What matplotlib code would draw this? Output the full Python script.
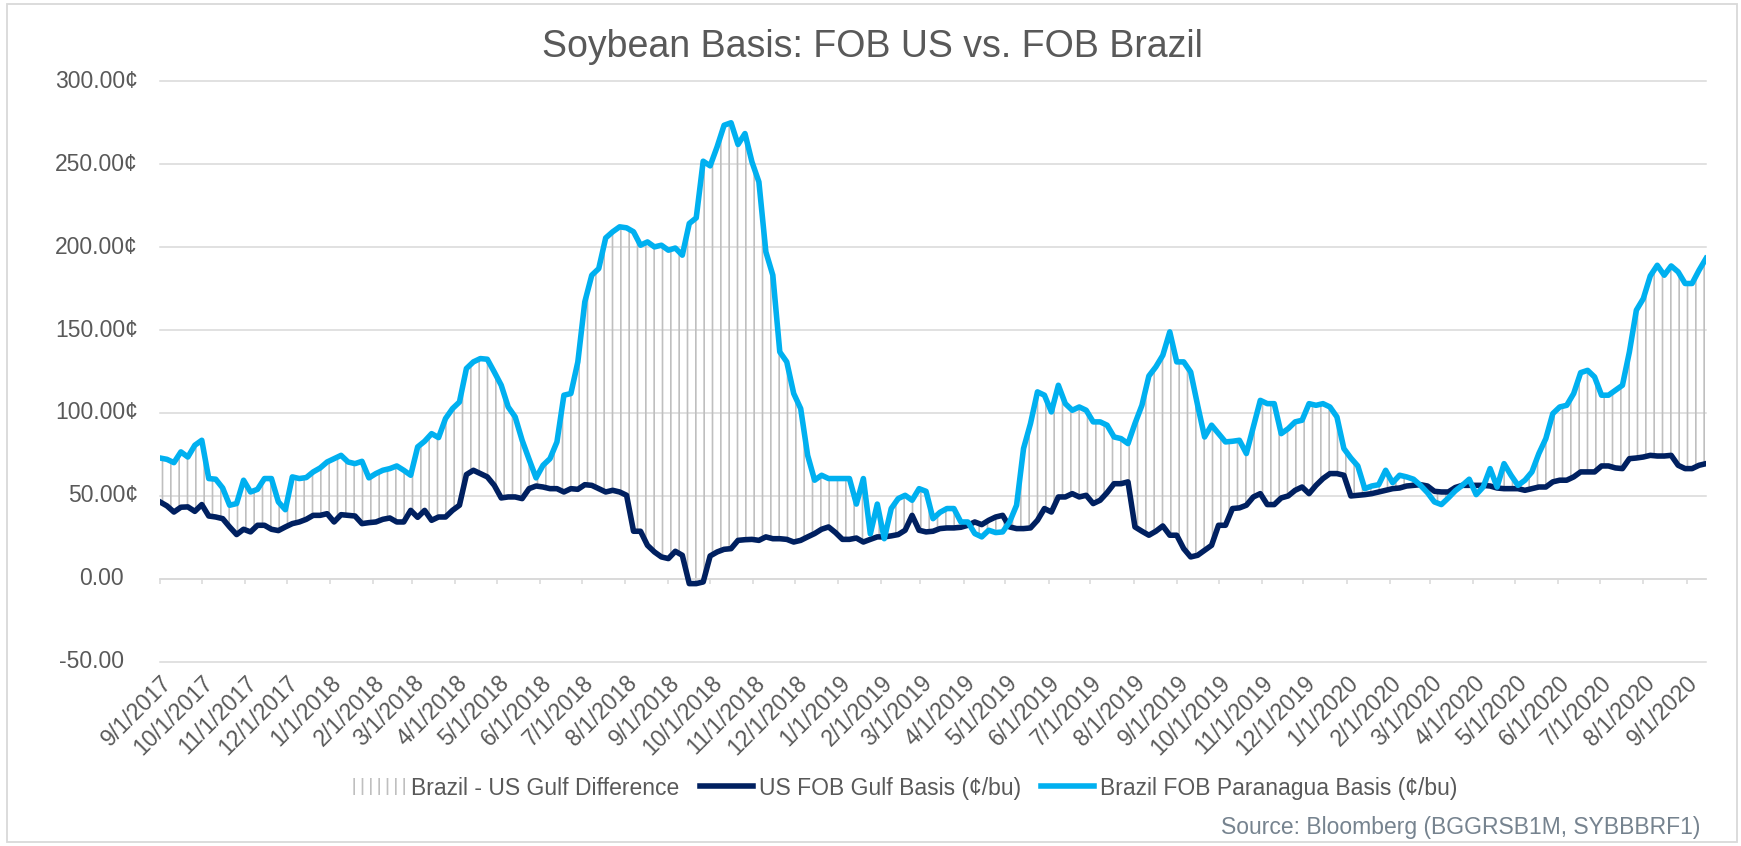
import matplotlib
matplotlib.use("Agg")
import matplotlib.pyplot as plt
import matplotlib.dates as mdates
import matplotlib.transforms as mtransforms
from matplotlib.patches import Patch, Rectangle
from matplotlib.lines import Line2D
from matplotlib.ticker import FuncFormatter
import pandas as pd

plt.rcParams['font.family'] = ['Liberation Sans', 'DejaVu Sans']
plt.rcParams['hatch.linewidth'] = 1.2
plt.rcParams['hatch.color'] = '#bfbfbf'

title = "Soybean Basis: FOB US vs. FOB Brazil"
source_note = "Source: Bloomberg (BGGRSB1M, SYBBBRF1)"
series_names = ["Brazil - US Gulf Difference",
                "US FOB Gulf Basis (\u00a2/bu)",
                "Brazil FOB Paranagua Basis (\u00a2/bu)"]

# observation dates: every 5 days from the start date
start_date = "2017-09-01"
step_days = 5

brazil_fob = [
    72.8, 72.0, 70.0, 76.5, 73.4, 80.5, 83.5, 60.4, 60.0, 54.7,
    44.3, 45.3, 59.4, 52.3, 53.9, 60.4, 60.4, 46.3, 41.6, 61.4,
    60.4, 61.0, 64.4, 66.8, 70.4, 72.4, 74.4, 70.4, 69.4, 70.8,
    60.8, 63.4, 65.4, 66.4, 68.0, 65.4, 62.4, 79.5, 82.9, 87.5,
    85.1, 96.6, 102.6, 106.6, 126.8, 130.8, 132.8, 132.4, 124.7, 116.7,
    103.6, 97.6, 83.5, 72.0, 60.8, 68.4, 72.4, 82.5, 110.7, 111.7,
    130.8, 167.0, 183.1, 187.1, 205.6, 209.3, 212.3, 211.7, 209.3, 201.2,
    203.2, 200.2, 201.2, 198.2, 199.5, 195.2, 214.3, 217.7, 251.9, 249.1,
    260.6, 273.6, 275.1, 262.0, 268.6, 251.5, 239.4, 197.2, 183.1, 136.8,
    130.8, 111.7, 102.6, 74.4, 59.4, 62.4, 60.4, 60.4, 60.4, 60.4,
    45.0, 60.4, 27.0, 45.0, 24.1, 42.3, 48.3, 50.3, 47.3, 54.3,
    52.7, 36.2, 40.0, 42.3, 42.3, 34.2, 34.2, 27.2, 25.2, 29.2,
    27.8, 28.2, 34.2, 44.3, 78.5, 93.6, 112.7, 110.7, 100.6, 116.7,
    105.6, 101.6, 103.6, 101.6, 94.6, 94.6, 92.6, 85.5, 84.5, 81.5,
    93.6, 104.6, 122.3, 127.8, 134.8, 148.9, 130.8, 130.8, 124.7, 104.6,
    85.5, 92.6, 87.5, 82.5, 82.9, 83.5, 75.5, 91.5, 107.6, 105.6,
    105.6, 87.5, 90.5, 94.6, 95.6, 105.6, 104.6, 105.6, 103.6, 97.6,
    78.5, 72.8, 68.0, 54.3, 55.9, 56.7, 65.4, 57.9, 62.4, 61.4,
    60.0, 56.3, 51.9, 46.3, 44.7, 48.7, 53.0, 56.3, 60.0, 50.7,
    55.3, 66.4, 55.3, 69.4, 62.4, 56.3, 59.4, 64.4, 75.5, 84.5,
    99.6, 103.6, 104.6, 111.7, 124.3, 125.7, 121.7, 110.7, 110.7, 113.7,
    116.7, 136.8, 162.0, 169.0, 182.7, 189.1, 183.1, 188.7, 185.1, 178.1,
    178.1, 186.1, 193.2,
]

us_gulf = [
    46.3, 43.9, 40.2, 43.1, 43.3, 40.6, 44.7, 37.8, 37.2, 36.2,
    31.2, 26.6, 29.8, 28.2, 32.2, 32.2, 29.8, 29.0, 31.2, 33.2,
    34.2, 35.8, 38.2, 38.2, 39.2, 34.2, 38.6, 38.2, 37.8, 33.2,
    33.8, 34.2, 35.8, 36.6, 34.2, 34.2, 41.2, 37.0, 41.2, 35.2,
    37.2, 37.2, 41.2, 44.3, 62.8, 65.4, 63.4, 61.4, 56.3, 48.7,
    49.3, 49.3, 48.3, 54.3, 55.9, 55.3, 54.3, 54.3, 52.3, 54.3,
    53.9, 56.7, 56.3, 54.3, 52.3, 53.3, 52.3, 50.3, 28.6, 28.6,
    20.1, 16.1, 13.1, 12.1, 16.5, 14.1, -3.0, -3.0, -2.0, 13.7,
    16.1, 17.7, 18.1, 23.1, 23.5, 23.7, 23.1, 25.2, 24.1, 24.1,
    23.7, 22.1, 23.1, 25.2, 27.2, 29.8, 31.2, 27.8, 23.7, 23.7,
    24.5, 22.1, 23.7, 25.2, 25.2, 25.8, 26.6, 29.2, 38.2, 29.2,
    28.2, 28.6, 30.2, 30.6, 30.6, 31.0, 32.2, 34.2, 32.6, 35.2,
    37.2, 38.2, 31.2, 30.2, 30.2, 30.6, 35.2, 42.3, 40.2, 49.3,
    49.3, 51.3, 49.3, 50.3, 45.3, 47.3, 51.9, 57.3, 57.3, 58.4,
    31.2, 28.6, 26.2, 28.6, 31.8, 26.2, 26.2, 18.1, 13.1, 14.1,
    17.1, 20.1, 32.2, 32.2, 42.3, 42.7, 44.3, 49.3, 51.3, 44.7,
    44.7, 48.7, 49.9, 53.3, 55.3, 51.3, 56.3, 60.4, 63.4, 63.4,
    62.4, 49.9, 50.3, 50.7, 51.3, 52.3, 53.3, 54.3, 54.7, 55.9,
    56.3, 56.7, 55.9, 52.7, 52.3, 52.3, 55.0, 56.3, 56.3, 56.3,
    56.3, 55.9, 54.7, 54.3, 54.3, 54.3, 53.3, 54.3, 55.3, 55.3,
    58.4, 59.4, 59.4, 61.4, 64.4, 64.4, 64.4, 68.0, 68.0, 66.8,
    66.4, 72.4, 72.8, 73.4, 74.4, 74.0, 74.0, 74.4, 68.4, 66.4,
    66.4, 68.4, 69.4,
]

y_ticks = [-50, 0, 50, 100, 150, 200, 250, 300]

NAVY = '#002060'
LIGHT = '#00b0f0'
HATCH = '#bfbfbf'
GRID = '#d9d9d9'
TEXT = '#595959'

dates = pd.date_range(start_date, periods=len(brazil_fob), freq=f'{step_days}D')

W, H = 1741, 846
fig = plt.figure(figsize=(W / 100, H / 100), dpi=100)
fig.patch.set_facecolor('white')

# outer chart border
fig.patches.append(Rectangle((7 / W, 4 / H), (1737 - 7) / W, (842 - 4) / H,
                             transform=fig.transFigure, fill=False,
                             edgecolor=GRID, linewidth=1.3))

left, right = 160 / W, 1706 / W
top, bottom = 1 - 81.5 / H, 1 - 661.5 / H
ax = fig.add_axes([left, bottom, right - left, top - bottom])

# difference (hatched between the two series)
ax.fill_between(dates, us_gulf, brazil_fob, facecolor='none',
                edgecolor=HATCH, hatch='||', linewidth=0, zorder=1)
ax.plot(dates, us_gulf, color=NAVY, lw=4.0, solid_joinstyle='round', zorder=3)
ax.plot(dates, brazil_fob, color=LIGHT, lw=4.0, solid_joinstyle='round', zorder=4)

ax.set_xlim(dates[0], dates[-1])
ax.set_ylim(-50, 300)
ax.set_yticks(y_ticks)
ax.yaxis.grid(True, color=GRID, lw=1.1)
ax.set_axisbelow(True)
for t in ax.yaxis.get_major_ticks():
    t.gridline.set_clip_on(False)
ax.tick_params(axis='y', length=0, labelleft=False)

for s in ['left', 'right', 'top']:
    ax.spines[s].set_visible(False)
ax.spines['bottom'].set_position(('data', 0))
ax.spines['bottom'].set_color(GRID)
ax.spines['bottom'].set_linewidth(1.1)

ax.xaxis.set_major_locator(mdates.MonthLocator(bymonthday=1))

def fmt_date(x, pos=None):
    d = mdates.num2date(x)
    return f"{d.month}/{d.day}/{d.year}"

ax.xaxis.set_major_formatter(FuncFormatter(fmt_date))
ax.tick_params(axis='x', direction='out', length=3.6, width=1.1, color=GRID,
               labelcolor=TEXT, labelsize=16.5, pad=63, labelrotation=45)
for lab in ax.get_xticklabels():
    lab.set_ha('right')
    lab.set_va('top')
    lab.set_rotation_mode('anchor')

# y labels (the ones without a cent sign keep the space of one)
ytrans = mtransforms.blended_transform_factory(ax.transAxes, ax.transData)
for v in y_ticks:
    if v > 0:
        txt, off = f"{v:.2f}\u00a2", -22
    else:
        txt, off = f"{v:.2f}", -36
    tr = mtransforms.offset_copy(ytrans, fig=fig, x=off, y=0, units='dots')
    ax.text(0, v, txt, transform=tr, ha='right', va='center',
            fontsize=16.5, color=TEXT)

fig.text(872 / W, 1 - 47 / H, title, ha='center', va='center',
         fontsize=27, color=TEXT)

handles = [
    Patch(facecolor='white', edgecolor=HATCH, hatch='||', linewidth=0),
    Line2D([], [], color=NAVY, lw=4.0),
    Line2D([], [], color=LIGHT, lw=4.0),
]
leg = fig.legend(handles, series_names, loc='center', ncol=3,
                 bbox_to_anchor=(905 / W, 1 - 788 / H), frameon=False,
                 fontsize=16.5, handlelength=2.3, handletextpad=0.25,
                 columnspacing=0.9, handleheight=0.7)
for t in leg.get_texts():
    t.set_color(TEXT)

fig.text(1700 / W, 1 - 827 / H, source_note, ha='right', va='center',
         fontsize=16.5, color='#76838f')

fig.savefig('out.png', dpi=100, facecolor='white')
